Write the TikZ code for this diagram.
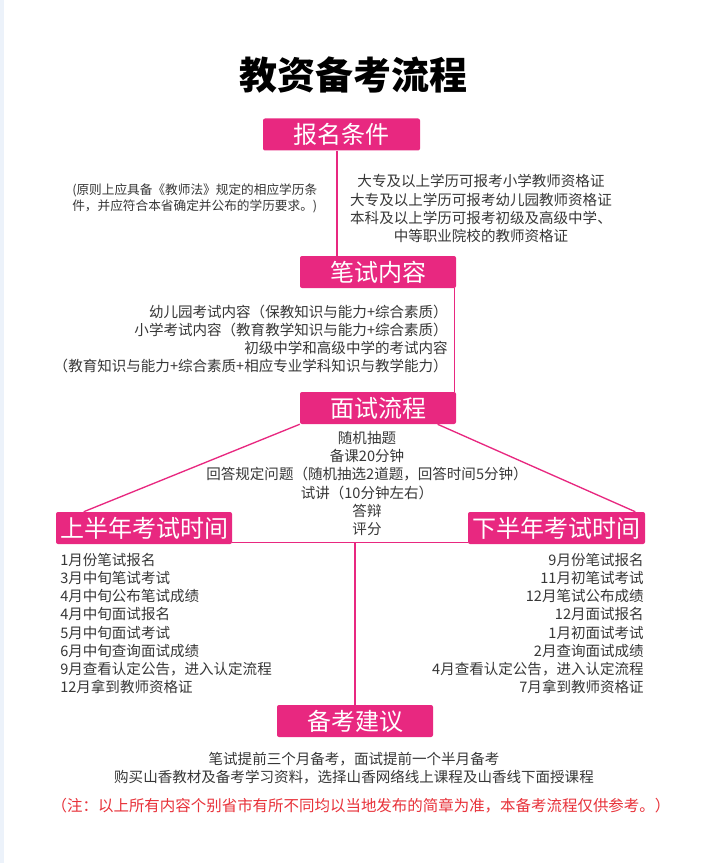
\documentclass[tikz,border=0pt]{standalone}
\usepackage{fontspec}
\setmainfont{Noto Sans CJK SC}
\usepackage{xcolor}
\usetikzlibrary{calc}
\definecolor{rose}{RGB}{232,40,128}
\definecolor{txt}{RGB}{55,55,55}
\definecolor{notered}{RGB}{232,50,58}
\definecolor{strip}{RGB}{236,242,250}

\tikzset{
  stage/.style={fill=rose, rounded corners=1.5pt, text=white, inner sep=0pt,
    font=\fontsize{18}{20}\selectfont, minimum height=24pt, minimum width=117pt},
  link/.style={draw=rose, line width=1pt},
  info/.style={text=txt, inner sep=0pt, font=\fontsize{10.9}{13.6}\selectfont},
}

\begin{document}
\begin{tikzpicture}[x=0.75pt,y=-0.75pt]
\useasboundingbox[fill=white] (0,0) rectangle (706,863);
\fill[strip] (0,0) rectangle (4,863);

\node[font=\fontsize{28.5}{30}\selectfont\bfseries] (title) at (353,75) {教资备考流程};

% stages
\node[stage, minimum width=117.75pt] (bm) at (341.5,134.5) {报名条件};
\node[stage] (bs) at (378,272) {笔试内容};
\node[stage] (ms) at (378,408) {面试流程};
\node[stage, minimum width=132pt] (sb) at (144,528) {上半年考试时间};
\node[stage, minimum width=132.75pt] (xb) at (556.5,528) {下半年考试时间};
\node[stage] (bk) at (355,721) {备考建议};

% links
\draw[link] ([xshift=-3.4pt]bm.south) -- ([xshift=-3.4pt]bm.south |- bs.north);
\draw[link] ([xshift=-1.5pt]bs.south east) -- ([xshift=-1.5pt]ms.north east);
\draw[link] (ms.south west) -- ([xshift=21pt]sb.north west);
\draw[link] ([xshift=-14pt]ms.south east) -- ([xshift=-7.5pt]xb.north east);
\draw[link] ([yshift=1.5pt]sb.south east) -- ([yshift=1.5pt]xb.south west);
\draw[link] ([yshift=1.5pt]bk.north |- sb.south) -- (bk.north);

% texts
\node[info, anchor=west, align=left, font=\fontsize{9.5}{12}\selectfont] (reqa) at (72,198)
  {(原则上应具备《教师法》规定的相应学历条\\件，并应符合本省确定并公布的学历要求。)};
\node[info, align=center] (reqb) at (481,208.5)
  {大专及以上学历可报考小学教师资格证\\大专及以上学历可报考幼儿园教师资格证\\本科及以上学历可报考初级及高级中学、\\中等职业院校的教师资格证};
\node[info, anchor=east, align=right] (bsinfo) at (448,339)
  {幼儿园考试内容（保教知识与能力+综合素质）\\小学考试内容（教育教学知识与能力+综合素质）\\初级中学和高级中学的考试内容\\（教育知识与能力+综合素质+相应专业学科知识与教学能力）};
\node[info, align=center] (msinfo) at (367,483.5)
  {随机抽题\\备课20分钟\\回答规定问题（随机抽选2道题，回答时间5分钟）\\试讲（10分钟左右）\\答辩\\评分};
\node[info, anchor=west, align=left] (sbinfo) at (60,623.5)
  {1月份笔试报名\\3月中旬笔试考试\\4月中旬公布笔试成绩\\4月中旬面试报名\\5月中旬面试考试\\6月中旬查询面试成绩\\9月查看认定公告，进入认定流程\\12月拿到教师资格证};
\node[info, anchor=east, align=right] (xbinfo) at (644,623.5)
  {9月份笔试报名\\11月初笔试考试\\12月笔试公布成绩\\12月面试报名\\1月初面试考试\\2月查询面试成绩\\4月查看认定公告，进入认定流程\\7月拿到教师资格证};
\node[info, align=center] (bkinfo) at (354,768)
  {笔试提前三个月备考，面试提前一个半月备考\\购买山香教材及备考学习资料，选择山香网络线上课程及山香线下面授课程};
\node[info, text=notered, font=\fontsize{11.6}{14}\selectfont] (note) at (361,806)
  {（注：以上所有内容个别省市有所不同均以当地发布的简章为准，本备考流程仅供参考。）};
\end{tikzpicture}
\end{document}
